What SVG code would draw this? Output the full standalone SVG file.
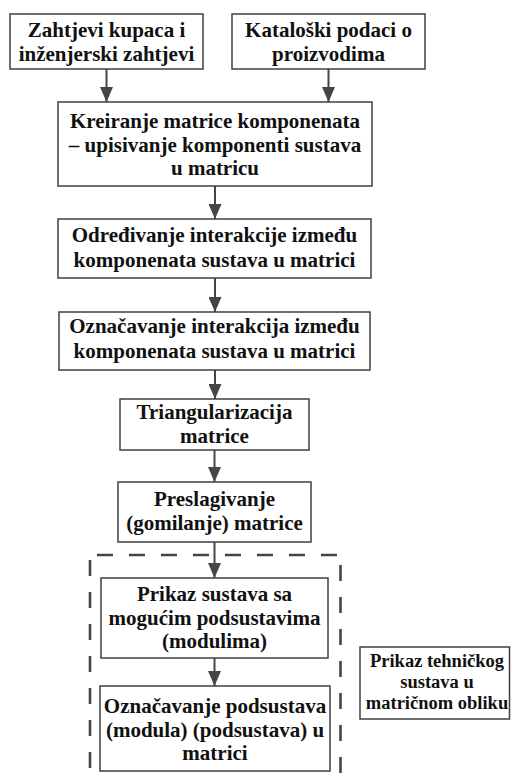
<svg xmlns="http://www.w3.org/2000/svg" width="512" height="775" viewBox="0 0 512 775">
<style>
.box{fill:#fff;stroke:#404040;stroke-width:1.5}
text{font-family:'Liberation Serif','Times New Roman',serif;font-weight:700;font-size:21px;fill:#111;text-anchor:middle}
.ts{font-size:18.5px}
.conn line{stroke:#454545;stroke-width:2}
.dash{stroke:#454545;stroke-width:2.6;fill:none;stroke-dasharray:16 16}
</style>
<defs>
<marker id="ah" viewBox="0 0 15 13" refX="15" refY="6.5" markerWidth="15" markerHeight="13" markerUnits="userSpaceOnUse" orient="auto">
<path d="M0,0 L15,6.5 L0,13 Z" fill="#454545"/>
</marker>
</defs>
<rect width="512" height="775" fill="#fff"/>
<g id="group-dashed">
<line class="dash" x1="97" y1="555" x2="341" y2="555"/>
<line class="dash" x1="90" y1="560" x2="90" y2="775"/>
<line class="dash" x1="340.5" y1="565" x2="340.5" y2="775"/>
</g>
<g class="conn" id="connectors">
<line x1="106.5" y1="69" x2="106.5" y2="102" marker-end="url(#ah)"/>
<line x1="328.5" y1="69" x2="328.5" y2="102" marker-end="url(#ah)"/>
<line x1="215" y1="186" x2="215" y2="219" marker-end="url(#ah)"/>
<line x1="215" y1="278" x2="215" y2="312" marker-end="url(#ah)"/>
<line x1="215" y1="370" x2="215" y2="399" marker-end="url(#ah)"/>
<line x1="214.5" y1="450" x2="214.5" y2="482" marker-end="url(#ah)"/>
<line x1="214.5" y1="542" x2="214.5" y2="578" marker-end="url(#ah)"/>
<line x1="214.5" y1="658" x2="214.5" y2="686" marker-end="url(#ah)"/>
</g>
<g id="n1">
<rect class="box" x="10" y="14" width="193" height="55"/>
<text x="106.5" y="37">Zahtjevi kupaca i</text>
<text x="106.5" y="60.5">inženjerski zahtjevi</text>
</g>
<g id="n2">
<rect class="box" x="232" y="14" width="193" height="55"/>
<text x="328.5" y="37">Kataloški podaci o</text>
<text x="328.5" y="60.5">proizvodima</text>
</g>
<g id="n3">
<rect class="box" x="58" y="102" width="314" height="84"/>
<text x="215" y="128">Kreiranje matrice komponenata</text>
<text x="215" y="151.5">– upisivanje komponenti sustava</text>
<text x="215" y="175">u matricu</text>
</g>
<g id="n4">
<rect class="box" x="58" y="219" width="313" height="59"/>
<text x="214.5" y="242">Određivanje interakcije između</text>
<text x="214.5" y="266.5">komponenata sustava u matrici</text>
</g>
<g id="n5">
<rect class="box" x="59" y="312" width="311" height="58"/>
<text x="214.5" y="333">Označavanje interakcija između</text>
<text x="214.5" y="357.5">komponenata sustava u matrici</text>
</g>
<g id="n6">
<rect class="box" x="120" y="399" width="189" height="51"/>
<text x="214.5" y="418.5">Triangularizacija</text>
<text x="214.5" y="443">matrice</text>
</g>
<g id="n7">
<rect class="box" x="118" y="482" width="193" height="60"/>
<text x="214.5" y="505.5">Preslagivanje</text>
<text x="214.5" y="530">(gomilanje) matrice</text>
</g>
<g id="n8">
<rect class="box" x="101" y="578" width="227" height="80"/>
<text x="214.5" y="600.5">Prikaz sustava sa</text>
<text x="214.5" y="625">mogućim podsustavima</text>
<text x="214.5" y="648">(modulima)</text>
</g>
<g id="n9">
<rect class="box" x="100" y="686" width="230" height="85"/>
<text x="215" y="713">Označavanje podsustava</text>
<text x="215" y="737">(modula) (podsustava) u</text>
<text x="215" y="760">matrici</text>
</g>
<g id="n10">
<rect class="box" x="360" y="647" width="149.5" height="72"/>
<text class="ts" x="437" y="667">Prikaz tehničkog</text>
<text class="ts" x="437" y="688">sustava u</text>
<text class="ts" x="437" y="709">matričnom obliku</text>
</g>
</svg>
